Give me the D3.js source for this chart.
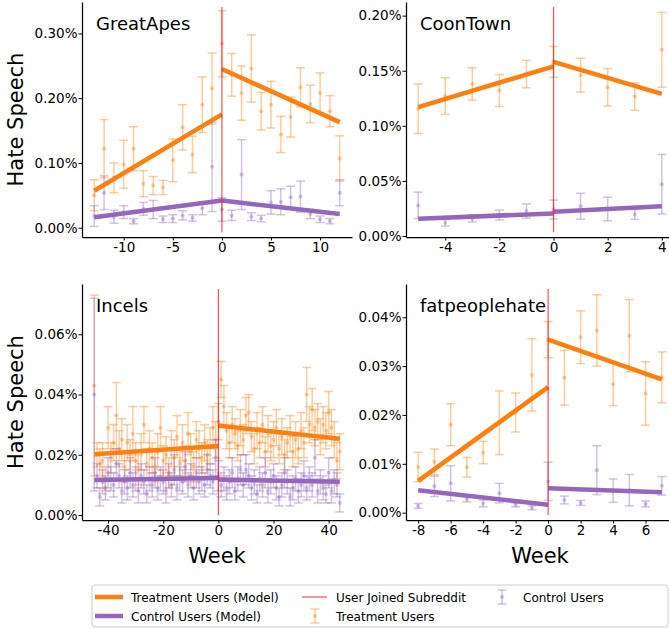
<!DOCTYPE html>
<html>
<head>
<meta charset="utf-8">
<script src="https://d3js.org/d3.v7.min.js"></script>
<style>
  body { margin: 0; background: white; }
  svg { font-family: "DejaVu Sans", sans-serif; }
</style>
</head>
<body>
<svg id="chart" width="669" height="629"></svg>
<script>
// ---------- data (values in percent) ----------
const greatApesWeeks = [-13,-12,-11,-10,-9,-8,-7,-6,-5,-4,-3,-2,-1,0,1,2,3,4,5,6,7,8,9,10,11,12];
const greatApesTreat = [0.050,0.122,0.077,0.098,0.122,0.068,0.065,0.062,0.104,0.155,0.113,0.190,0.215,
                        0.284,0.236,0.208,0.246,0.180,0.190,0.144,0.171,0.217,0.191,0.208,0.180,0.107];
const greatApesTreatErr = [0.024,0.045,0.023,0.037,0.034,0.020,0.014,0.011,0.033,0.035,0.028,0.043,0.055,
                           0.051,0.033,0.042,0.052,0.029,0.036,0.028,0.031,0.030,0.029,0.031,0.024,0.035];
const greatApesCtrl = [0.018,0.054,0.017,0.024,0.010,0.029,0.028,0.013,0.014,0.019,0.015,0.030,0.094,
                       0.028,0.019,0.082,0.017,0.014,0.039,0.040,0.047,0.048,0.021,0.013,0.010,0.054];
const greatApesCtrlErr = [0.016,0.026,0.010,0.010,0.004,0.010,0.014,0.005,0.006,0.007,0.005,0.010,0.069,
                          0.018,0.008,0.054,0.006,0.005,0.018,0.020,0.017,0.024,0.007,0.005,0.004,0.020];
const greatApesModelTreat = [[[-13,0.057],[0,0.175]], [[0,0.245],[12,0.163]]];
const greatApesModelCtrl = [[[-13,0.016],[0,0.042]], [[0,0.042],[12,0.021]]];

const coonTownWeeks = [-5,-4,-3,-2,-1,0,1,2,3,4];
const coonTownTreat = [0.1155,0.127,0.138,0.132,0.147,0.158,0.146,0.135,0.1266,0.169];
const coonTownTreatErr = [0.0225,0.0166,0.0147,0.0145,0.0125,0.014,0.0154,0.017,0.0124,0.034];
const coonTownCtrl = [0.0278,0.012,0.016,0.019,0.0227,0.024,0.027,0.0245,0.0196,0.047];
const coonTownCtrlErr = [0.012,0.003,0.0033,0.0045,0.0065,0.0086,0.0118,0.0107,0.0045,0.027];
const coonTownModelTreat = [[[-5,0.117],[0,0.154]], [[0,0.158],[4,0.129]]];
const coonTownModelCtrl = [[[-5,0.0157],[0,0.0205]], [[0,0.022],[4,0.027]]];

const incelsWeeks = d3.range(-45, 45);
const incelsTreat = [
  0.043,0.020,0.017,0.018,0.012,0.029,0.019,0.024,0.033,0.022,
  0.025,0.016,0.024,0.020,0.027,0.018,0.015,0.021,0.030,0.017,
  0.022,0.019,0.016,0.021,0.029,0.018,0.020,0.014,0.022,0.019,
  0.026,0.017,0.024,0.018,0.027,0.021,0.016,0.025,0.022,0.019,
  0.024,0.020,0.023,0.029,0.025,
  0.031,0.045,0.036,0.028,0.024,0.030,0.027,0.023,0.029,0.025,
  0.033,0.034,0.026,0.022,0.028,0.024,0.030,0.021,0.027,0.023,
  0.025,0.029,0.022,0.026,0.020,0.024,0.027,0.021,0.025,0.022,
  0.028,0.024,0.040,0.030,0.035,0.029,0.031,0.026,0.030,0.028,
  0.034,0.029,0.025,0.018,0.021];
const incelsTreatErr = [
  0.030,0.004,0.005,0.006,0.004,0.007,0.005,0.006,0.011,0.006,
  0.007,0.005,0.006,0.005,0.009,0.006,0.005,0.006,0.006,0.005,
  0.006,0.005,0.005,0.006,0.007,0.005,0.006,0.005,0.006,0.006,
  0.007,0.005,0.006,0.005,0.007,0.006,0.005,0.006,0.006,0.005,
  0.006,0.005,0.006,0.007,0.006,
  0.006,0.006,0.007,0.006,0.005,0.006,0.005,0.005,0.006,0.005,
  0.006,0.006,0.005,0.005,0.006,0.005,0.006,0.005,0.006,0.005,
  0.006,0.006,0.005,0.006,0.005,0.005,0.006,0.005,0.006,0.005,
  0.006,0.005,0.009,0.006,0.007,0.006,0.006,0.006,0.006,0.006,
  0.007,0.006,0.006,0.006,0.006];
const incelsCtrl = [
  0.040,0.013,0.006,0.011,0.009,0.014,0.012,0.010,0.017,0.013,
  0.008,0.011,0.009,0.014,0.010,0.012,0.008,0.013,0.011,0.007,
  0.012,0.010,0.014,0.009,0.012,0.011,0.008,0.013,0.010,0.015,
  0.009,0.012,0.011,0.016,0.010,0.013,0.009,0.014,0.011,0.012,
  0.010,0.015,0.013,0.011,0.019,
  0.013,0.010,0.012,0.009,0.011,0.014,0.008,0.012,0.015,0.010,
  0.015,0.013,0.009,0.011,0.007,0.012,0.010,0.014,0.008,0.011,
  0.013,0.009,0.006,0.010,0.014,0.011,0.006,0.009,0.012,0.008,
  0.010,0.013,0.009,0.012,0.010,0.019,0.008,0.011,0.009,0.007,
  0.014,0.008,0.011,0.010,0.004];
const incelsCtrlErr = [
  0.032,0.004,0.003,0.004,0.004,0.005,0.004,0.004,0.005,0.004,
  0.004,0.004,0.004,0.005,0.004,0.004,0.004,0.004,0.004,0.003,
  0.004,0.004,0.005,0.004,0.004,0.004,0.004,0.004,0.004,0.005,
  0.004,0.004,0.004,0.005,0.004,0.004,0.004,0.005,0.004,0.004,
  0.004,0.005,0.004,0.004,0.006,
  0.005,0.004,0.004,0.004,0.004,0.005,0.003,0.004,0.005,0.004,
  0.005,0.004,0.004,0.004,0.003,0.004,0.004,0.005,0.004,0.004,
  0.004,0.004,0.003,0.004,0.005,0.004,0.003,0.004,0.004,0.004,
  0.004,0.005,0.004,0.004,0.004,0.006,0.004,0.004,0.004,0.003,
  0.005,0.004,0.004,0.004,0.003];
const incelsModelTreat = [[[-45,0.0202],[0,0.0229]], [[0,0.0297],[44,0.0253]]];
const incelsModelCtrl = [[[-45,0.0116],[0,0.0123]], [[0,0.0118],[44,0.011]]];

const fphWeeks = [-8,-7,-6,-5,-4,-3,-2,-1,0,1,2,3,4,5,6,7];
const fphTreat = [0.00935,0.0104,0.0180,0.0093,0.0123,0.0184,0.0205,0.0282,0.0354,0.0276,0.0359,0.0373,0.0263,0.0362,0.0244,0.0277];
const fphTreatErr = [0.003,0.0026,0.0043,0.002,0.0023,0.0065,0.004,0.0074,0.0037,0.0056,0.0054,0.0073,0.0044,0.0074,0.0065,0.0052];
const fphCtrl = [0.00137,0.0054,0.006,0.0028,0.0019,0.004,0.0016,0.0010,0.0064,0.0026,0.0020,0.0087,0.0045,0.0046,0.0018,0.0055];
const fphCtrlErr = [0.0005,0.0021,0.0036,0.0006,0.0007,0.002,0.0004,0.0004,0.0039,0.0008,0.0005,0.005,0.0024,0.0032,0.0006,0.0019];
const fphModelTreat = [[[-8,0.0065],[0,0.0257]], [[0,0.0354],[7,0.0273]]];
const fphModelCtrl = [[[-8,0.0046],[0,0.0016]], [[0,0.005],[7,0.0042]]];

const titles = ["GreatApes", "CoonTown", "Incels", "fatpeoplehate"];
const xTickVals = [[-10,-5,0,5,10], [-4,-2,0,2,4], [-40,-20,0,20,40], [-8,-6,-4,-2,0,2,4,6]];
const yTickVals = [[0,0.1,0.2,0.3], [0,0.05,0.1,0.15,0.2], [0,0.02,0.04,0.06], [0,0.01,0.02,0.03,0.04]];
const legendLabels = ["Treatment Users (Model)", "Control Users (Model)", "User Joined Subreddit", "Treatment Users", "Control Users"];

// ---------- layout ----------
const ORANGE = "#ff7f0e", PURPLE = "#9467bd";
const panels = [
  {weeks: greatApesWeeks, t: greatApesTreat, te: greatApesTreatErr, c: greatApesCtrl, ce: greatApesCtrlErr,
   mt: greatApesModelTreat, mc: greatApesModelCtrl,
   box: [82, 352, 2, 237], xd: [-14.25, 13.25], yd: [-0.0144, 0.3486], ylab: true, xlab: false},
  {weeks: coonTownWeeks, t: coonTownTreat, te: coonTownTreatErr, c: coonTownCtrl, ce: coonTownCtrlErr,
   mt: coonTownModelTreat, mc: coonTownModelCtrl,
   box: [406, 674, 2, 237], xd: [-5.45, 4.45], yd: [-0.0009, 0.2124], ylab: false, xlab: false},
  {weeks: incelsWeeks, t: incelsTreat, te: incelsTreatErr, c: incelsCtrl, ce: incelsCtrlErr,
   mt: incelsModelTreat, mc: incelsModelCtrl,
   box: [82, 352, 284, 520], xd: [-49.45, 48.45], yd: [-0.00166, 0.0767], ylab: true, xlab: true},
  {weeks: fphWeeks, t: fphTreat, te: fphTreatErr, c: fphCtrl, ce: fphCtrlErr,
   mt: fphModelTreat, mc: fphModelCtrl,
   box: [406, 674, 284, 520], xd: [-8.75, 7.75], yd: [-0.0015, 0.0468], ylab: false, xlab: true}
];

const svg = d3.select("#chart");

function errorbar(g, x, y, lo, hi, color) {
  const o = 0.4;
  g.append("line").attr("x1", x).attr("x2", x).attr("y1", lo).attr("y2", hi)
    .attr("stroke", color).attr("stroke-width", 1.5).attr("stroke-opacity", o);
  [lo, hi].forEach(v => g.append("line").attr("x1", x - 4.5).attr("x2", x + 4.5).attr("y1", v).attr("y2", v)
    .attr("stroke", color).attr("stroke-width", 1.5).attr("stroke-opacity", o));
  g.append("circle").attr("cx", x).attr("cy", y).attr("r", 2).attr("fill", color).attr("fill-opacity", o);
}

panels.forEach((p, i) => {
  const [x0, x1, y0, y1] = p.box;
  const x = d3.scaleLinear().domain(p.xd).range([x0, x1]);
  const y = d3.scaleLinear().domain(p.yd).range([y1, y0]);
  const g = svg.append("g");

  // observed points with error bars
  const marks = g.append("g");
  p.weeks.forEach((w, k) => {
    errorbar(marks, x(w), y(p.t[k]), y(p.t[k] - p.te[k]), y(p.t[k] + p.te[k]), ORANGE);
  });
  p.weeks.forEach((w, k) => {
    errorbar(marks, x(w), y(p.c[k]), y(p.c[k] - p.ce[k]), y(p.c[k] + p.ce[k]), PURPLE);
  });

  // model lines
  const line = d3.line().x(d => x(d[0])).y(d => y(d[1]));
  p.mt.forEach(seg => g.append("path").attr("d", line(seg)).attr("fill", "none")
    .attr("stroke", ORANGE).attr("stroke-width", 4.5));
  p.mc.forEach(seg => g.append("path").attr("d", line(seg)).attr("fill", "none")
    .attr("stroke", PURPLE).attr("stroke-width", 4.5));

  // joined line
  g.append("line").attr("x1", x(0)).attr("x2", x(0)).attr("y1", y0 + 5).attr("y2", y1 - 5)
    .attr("stroke", "red").attr("stroke-width", 1.2).attr("stroke-opacity", 0.7);

  // axes
  const ax = g.append("g").attr("transform", `translate(0,${y1})`)
    .call(d3.axisBottom(x).tickValues(xTickVals[i]).tickSize(3.5).tickSizeOuter(0).tickPadding(2)
      .tickFormat(d => String(d)));
  const ay = g.append("g").attr("transform", `translate(${x0},0)`)
    .call(d3.axisLeft(y).tickValues(yTickVals[i]).tickSize(3.5).tickSizeOuter(0).tickPadding(1)
      .tickFormat(d => d.toFixed(2) + "%"));
  [ax, ay].forEach(a => {
    a.select(".domain").attr("stroke", "#000").attr("stroke-width", 1.25);
    a.selectAll(".tick line").attr("stroke", "#000");
    a.selectAll("text").attr("font-size", 13.5).attr("fill", "#000").attr("font-family", "DejaVu Sans");
  });

  g.append("text").attr("x", x0 + 14).attr("y", y0 + 28).attr("font-size", 18).text(titles[i]);

  if (p.ylab) {
    g.append("text").attr("transform", `translate(23,${(y0 + y1) / 2}) rotate(-90)`)
      .attr("text-anchor", "middle").attr("font-size", 21).text("Hate Speech");
  }
  if (p.xlab) {
    g.append("text").attr("x", (x0 + x1) / 2).attr("y", 563)
      .attr("text-anchor", "middle").attr("font-size", 21).text("Week");
  }
});

// ---------- legend ----------
const lg = svg.append("g");
lg.append("rect").attr("x", 92).attr("y", 585).attr("width", 576).attr("height", 42).attr("rx", 3)
  .attr("fill", "white").attr("stroke", "#cccccc").attr("stroke-width", 1);
lg.append("line").attr("x1", 95).attr("x2", 123).attr("y1", 597).attr("y2", 597)
  .attr("stroke", ORANGE).attr("stroke-width", 4.5);
lg.append("line").attr("x1", 95).attr("x2", 123).attr("y1", 616).attr("y2", 616)
  .attr("stroke", PURPLE).attr("stroke-width", 4.5);
lg.append("line").attr("x1", 302).attr("x2", 327).attr("y1", 597).attr("y2", 597)
  .attr("stroke", "red").attr("stroke-width", 1.2).attr("stroke-opacity", 0.7);
errorbar(lg, 315, 616, 609, 623, ORANGE);
errorbar(lg, 502, 597, 590, 604, PURPLE);
const lpos = [[131, 601.5], [131, 620.5], [336, 601.5], [336, 620.5], [523, 601.5]];
legendLabels.forEach((t, k) => {
  lg.append("text").attr("x", lpos[k][0]).attr("y", lpos[k][1]).attr("font-size", 12).text(t);
});
</script>
</body>
</html>
